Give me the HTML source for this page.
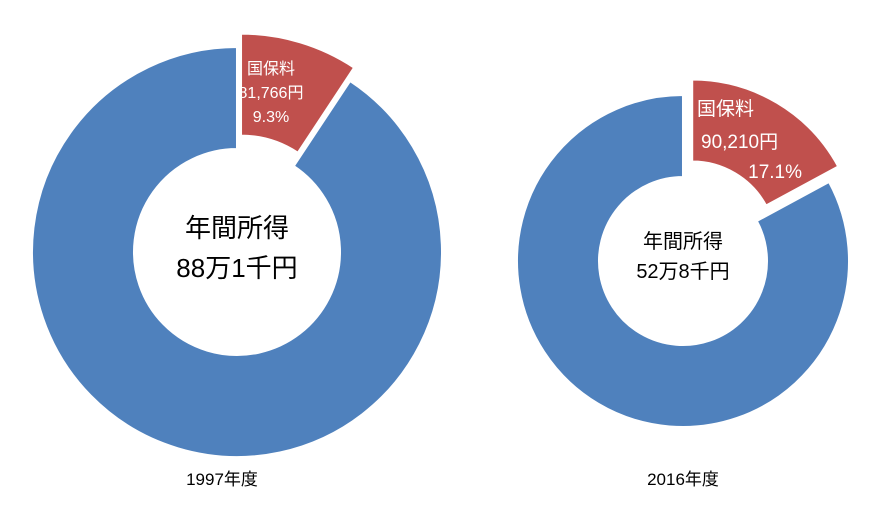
<!DOCTYPE html>
<html><head><meta charset="utf-8">
<style>
body{margin:0;background:#fff;width:887px;height:515px;overflow:hidden;font-family:"Liberation Sans","Noto Sans CJK JP",sans-serif;}
svg text{font-family:"Liberation Sans","Noto Sans CJK JP",sans-serif;}
</style></head>
<body>
<svg id="chart" width="887" height="515"></svg>
<script>
const years = ["1997年度","2016年度"];
const premiumShare = [9.3, 17.1];
const premiumLabels = ["81,766円","90,210円"];
const incomeLabels = ["88万1千円","52万8千円"];
const NS="http://www.w3.org/2000/svg";
const svg=document.getElementById('chart');
const layouts=[
 {cx:237,cy:252,r:205,ir:103,off:14,tf:26,lf:16},
 {cx:683,cy:261,r:166,ir:84,off:18,tf:20,lf:19}
];
function pt(cx,cy,r,a){return [cx+r*Math.sin(a),cy-r*Math.cos(a)];}
function arc(cx,cy,r,ir,a0,a1){
 const large=(a1-a0)>Math.PI?1:0;
 const [x0,y0]=pt(cx,cy,r,a0),[x1,y1]=pt(cx,cy,r,a1),[x2,y2]=pt(cx,cy,ir,a1),[x3,y3]=pt(cx,cy,ir,a0);
 return `M${x0},${y0}A${r},${r} 0 ${large} 1 ${x1},${y1}L${x2},${y2}A${ir},${ir} 0 ${large} 0 ${x3},${y3}Z`;
}
function txt(x,y,s,size,fill,anchor,name){
 const t=document.createElementNS(NS,'text');
 t.setAttribute('x',x);t.setAttribute('y',y);t.setAttribute('font-size',size);
 t.setAttribute('fill',fill);t.setAttribute('text-anchor',anchor||'middle');
 
 
 t.textContent=s;svg.appendChild(t);return t;
}
years.forEach((yr,i)=>{
 const L=layouts[i];
 const a=premiumShare[i]/100*2*Math.PI;
 const blue=document.createElementNS(NS,'path');
 blue.setAttribute('d',arc(L.cx,L.cy,L.r,L.ir,a,2*Math.PI-0.0001));
 blue.setAttribute('fill','#4f81bd');blue.setAttribute('stroke','#fff');blue.setAttribute('stroke-width','2');
 
 
 svg.appendChild(blue);
 const dx=L.off*Math.sin(a/2),dy=-L.off*Math.cos(a/2);
 const red=document.createElementNS(NS,'path');
 red.setAttribute('d',arc(L.cx+dx,L.cy+dy,L.r,L.ir,0,a));
 red.setAttribute('fill','#c0504d');red.setAttribute('stroke','#fff');red.setAttribute('stroke-width','2');
 
 
 svg.appendChild(red);
 // center
 txt(L.cx,L.cy-(i?13:15),'年間所得',L.tf,'#000','middle','center-title-'+i);
 txt(L.cx,L.cy+(i?17:25),incomeLabels[i],L.tf,'#000','middle','center-income-'+i);
 txt(L.cx-(i?0:15),485,yr,17,'#000','middle','year-label-'+i);
 if(i===0){
  txt(271,74,'国保料',16,'#fff','middle','premium-name-0');
  txt(271,98,premiumLabels[0],16,'#fff','middle','premium-value-0');
  txt(271,122,premiumShare[0]+'%',16,'#fff','middle','premium-pct-0');
 }else{
  txt(697,115,'国保料',19,'#fff','start','premium-name-1');
  txt(701,148,premiumLabels[1],19,'#fff','start','premium-value-1');
  txt(802,178,premiumShare[1]+'%',19,'#fff','end','premium-pct-1');
 }
});
</script>
</body></html>
